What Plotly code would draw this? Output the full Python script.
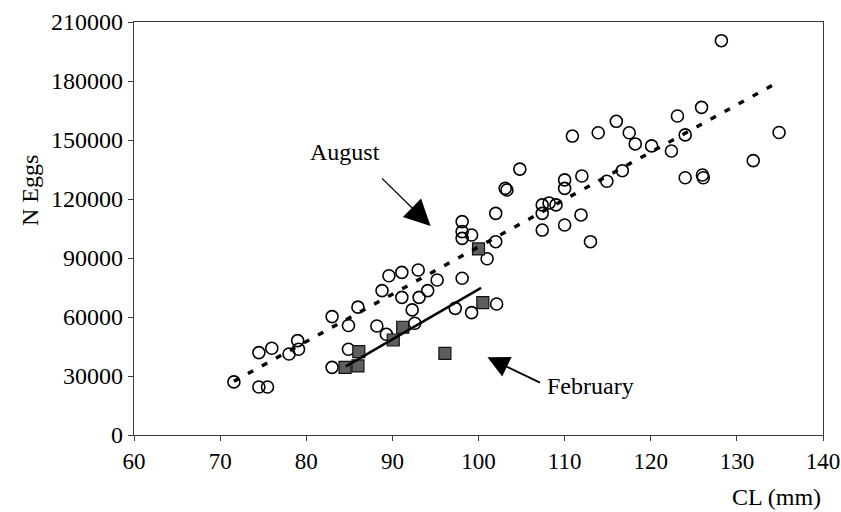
import plotly.graph_objects as go

# August females: carapace length (mm) vs number of eggs
aug_cl = [71.6, 74.5, 75.5, 74.5, 76.0, 78.0, 79.0, 79.1,
          83.0, 84.9, 83.0, 84.9, 86.0,
          88.2, 89.3, 88.8, 89.6, 91.1, 91.1, 93.0, 92.3, 92.6, 93.1, 94.1, 95.2,
          97.3, 98.1, 98.1, 98.1, 99.2, 101.0, 102.0, 102.0, 103.1, 103.3, 98.1, 99.2, 102.1, 104.8,
          107.4, 107.4, 108.2, 109.0, 107.4, 110.0, 110.0, 110.0, 111.9, 110.9, 113.9, 112.0, 113.0, 114.9,
          116.0, 117.5, 118.2, 120.1, 122.4, 124.0, 124.0, 116.7, 128.2, 126.0, 123.1,
          126.1, 125.9, 131.9, 134.9]
aug_eggs = [27000, 24400, 24400, 41900, 44100, 41200, 48000, 43600,
            60200, 55700, 34400, 43600, 65000,
            55400, 51200, 73400, 81000, 82700, 70000, 83900, 63600, 56800, 70000, 73400, 78800,
            64400, 108500, 103400, 100000, 101700, 89600, 98300, 112700, 125400, 124600, 79700, 62200, 66600, 135200,
            117000, 112700, 118000, 117000, 104200, 106800, 129700, 125400, 111900, 152000, 153700, 131700, 98300, 129000,
            159500, 153700, 148000, 147000, 144400, 152600, 130800, 134400, 200500, 132200, 162200,
            130800, 166600, 139500, 153800]

# February females
feb_cl = [84.5, 86.0, 86.1, 90.1, 91.2, 96.1, 100.0, 100.5]
feb_eggs = [34400, 35100, 42400, 48300, 54800, 41500, 94600, 67300]

# Regression lines (end points)
aug_fit_cl = [71.6, 134.7]
aug_fit_eggs = [27300, 179200]
feb_fit_cl = [84.6, 100.3]
feb_fit_eggs = [34900, 74800]

x_ticks = [60, 70, 80, 90, 100, 110, 120, 130, 140]
y_ticks = [0, 30000, 60000, 90000, 120000, 150000, 180000, 210000]

FONT = "Liberation Serif, Times New Roman, serif"
FS = 24
FS_X = 23

fig = go.Figure()

fig.add_trace(go.Scatter(
    x=aug_cl, y=aug_eggs, mode="markers", name="August",
    marker=dict(symbol="circle-open", size=12, color="black", line=dict(width=1.6)),
))
fig.add_trace(go.Scatter(
    x=feb_cl, y=feb_eggs, mode="markers", name="February",
    marker=dict(symbol="square", size=12, color="#5e5e5e", line=dict(width=1.2, color="#111111")),
))
fig.add_trace(go.Scatter(
    x=aug_fit_cl, y=aug_fit_eggs, mode="lines",
    line=dict(color="black", width=3.4, dash="6px,10px"),
))
fig.add_trace(go.Scatter(
    x=feb_fit_cl, y=feb_fit_eggs, mode="lines",
    line=dict(color="black", width=2.4),
))

axis_common = dict(
    showgrid=False, zeroline=False, showline=True, mirror=True,
    linecolor="#3a3a3a", linewidth=1.2,
    ticks="outside", ticklen=5, tickcolor="#3a3a3a", tickwidth=1,
    ticklabeloverflow="allow", automargin=False,
)

fig.update_xaxes(range=[60, 140], tickvals=x_ticks, ticktext=[str(v) for v in x_ticks],
                 tickfont=dict(family=FONT, size=FS_X, color="black"), **axis_common)
fig.update_yaxes(range=[0, 210000], tickvals=y_ticks, ticktext=[str(v) for v in y_ticks],
                 tickfont=dict(family=FONT, size=FS, color="black"), **axis_common)

fig.update_layout(
    width=841, height=512,
    margin=dict(l=134, r=18, t=22, b=77, autoexpand=False),
    paper_bgcolor="white", plot_bgcolor="white",
    showlegend=False,
    font=dict(family=FONT, size=FS, color="black"),
    annotations=[
        # axis titles
        dict(text="N Eggs", xref="paper", yref="paper", x=-0.151, y=0.593,
             textangle=-90, showarrow=False, xanchor="center", yanchor="middle",
             font=dict(family=FONT, size=FS)),
        dict(text="CL (mm)", xref="paper", yref="paper", x=1.0, y=-0.150,
             showarrow=False, xanchor="right", yanchor="middle",
             font=dict(family=FONT, size=FS)),
        # series labels with pointers
        dict(text="August", x=84.55, y=144100, showarrow=False,
             font=dict(family=FONT, size=FS)),
        dict(text="", x=94.43, y=106300, ax=-50, ay=-49, axref="pixel", ayref="pixel",
             showarrow=True, arrowhead=2, arrowsize=4.0, arrowwidth=1.3, arrowcolor="black"),
        dict(text="February", x=113.06, y=25100, showarrow=False,
             font=dict(family=FONT, size=FS)),
        dict(text="", x=101.04, y=39500, ax=54, ay=26, axref="pixel", ayref="pixel",
             showarrow=True, arrowhead=2, arrowsize=2.4, arrowwidth=1.8, arrowcolor="black"),
    ],
)

fig.write_html("out.html")
